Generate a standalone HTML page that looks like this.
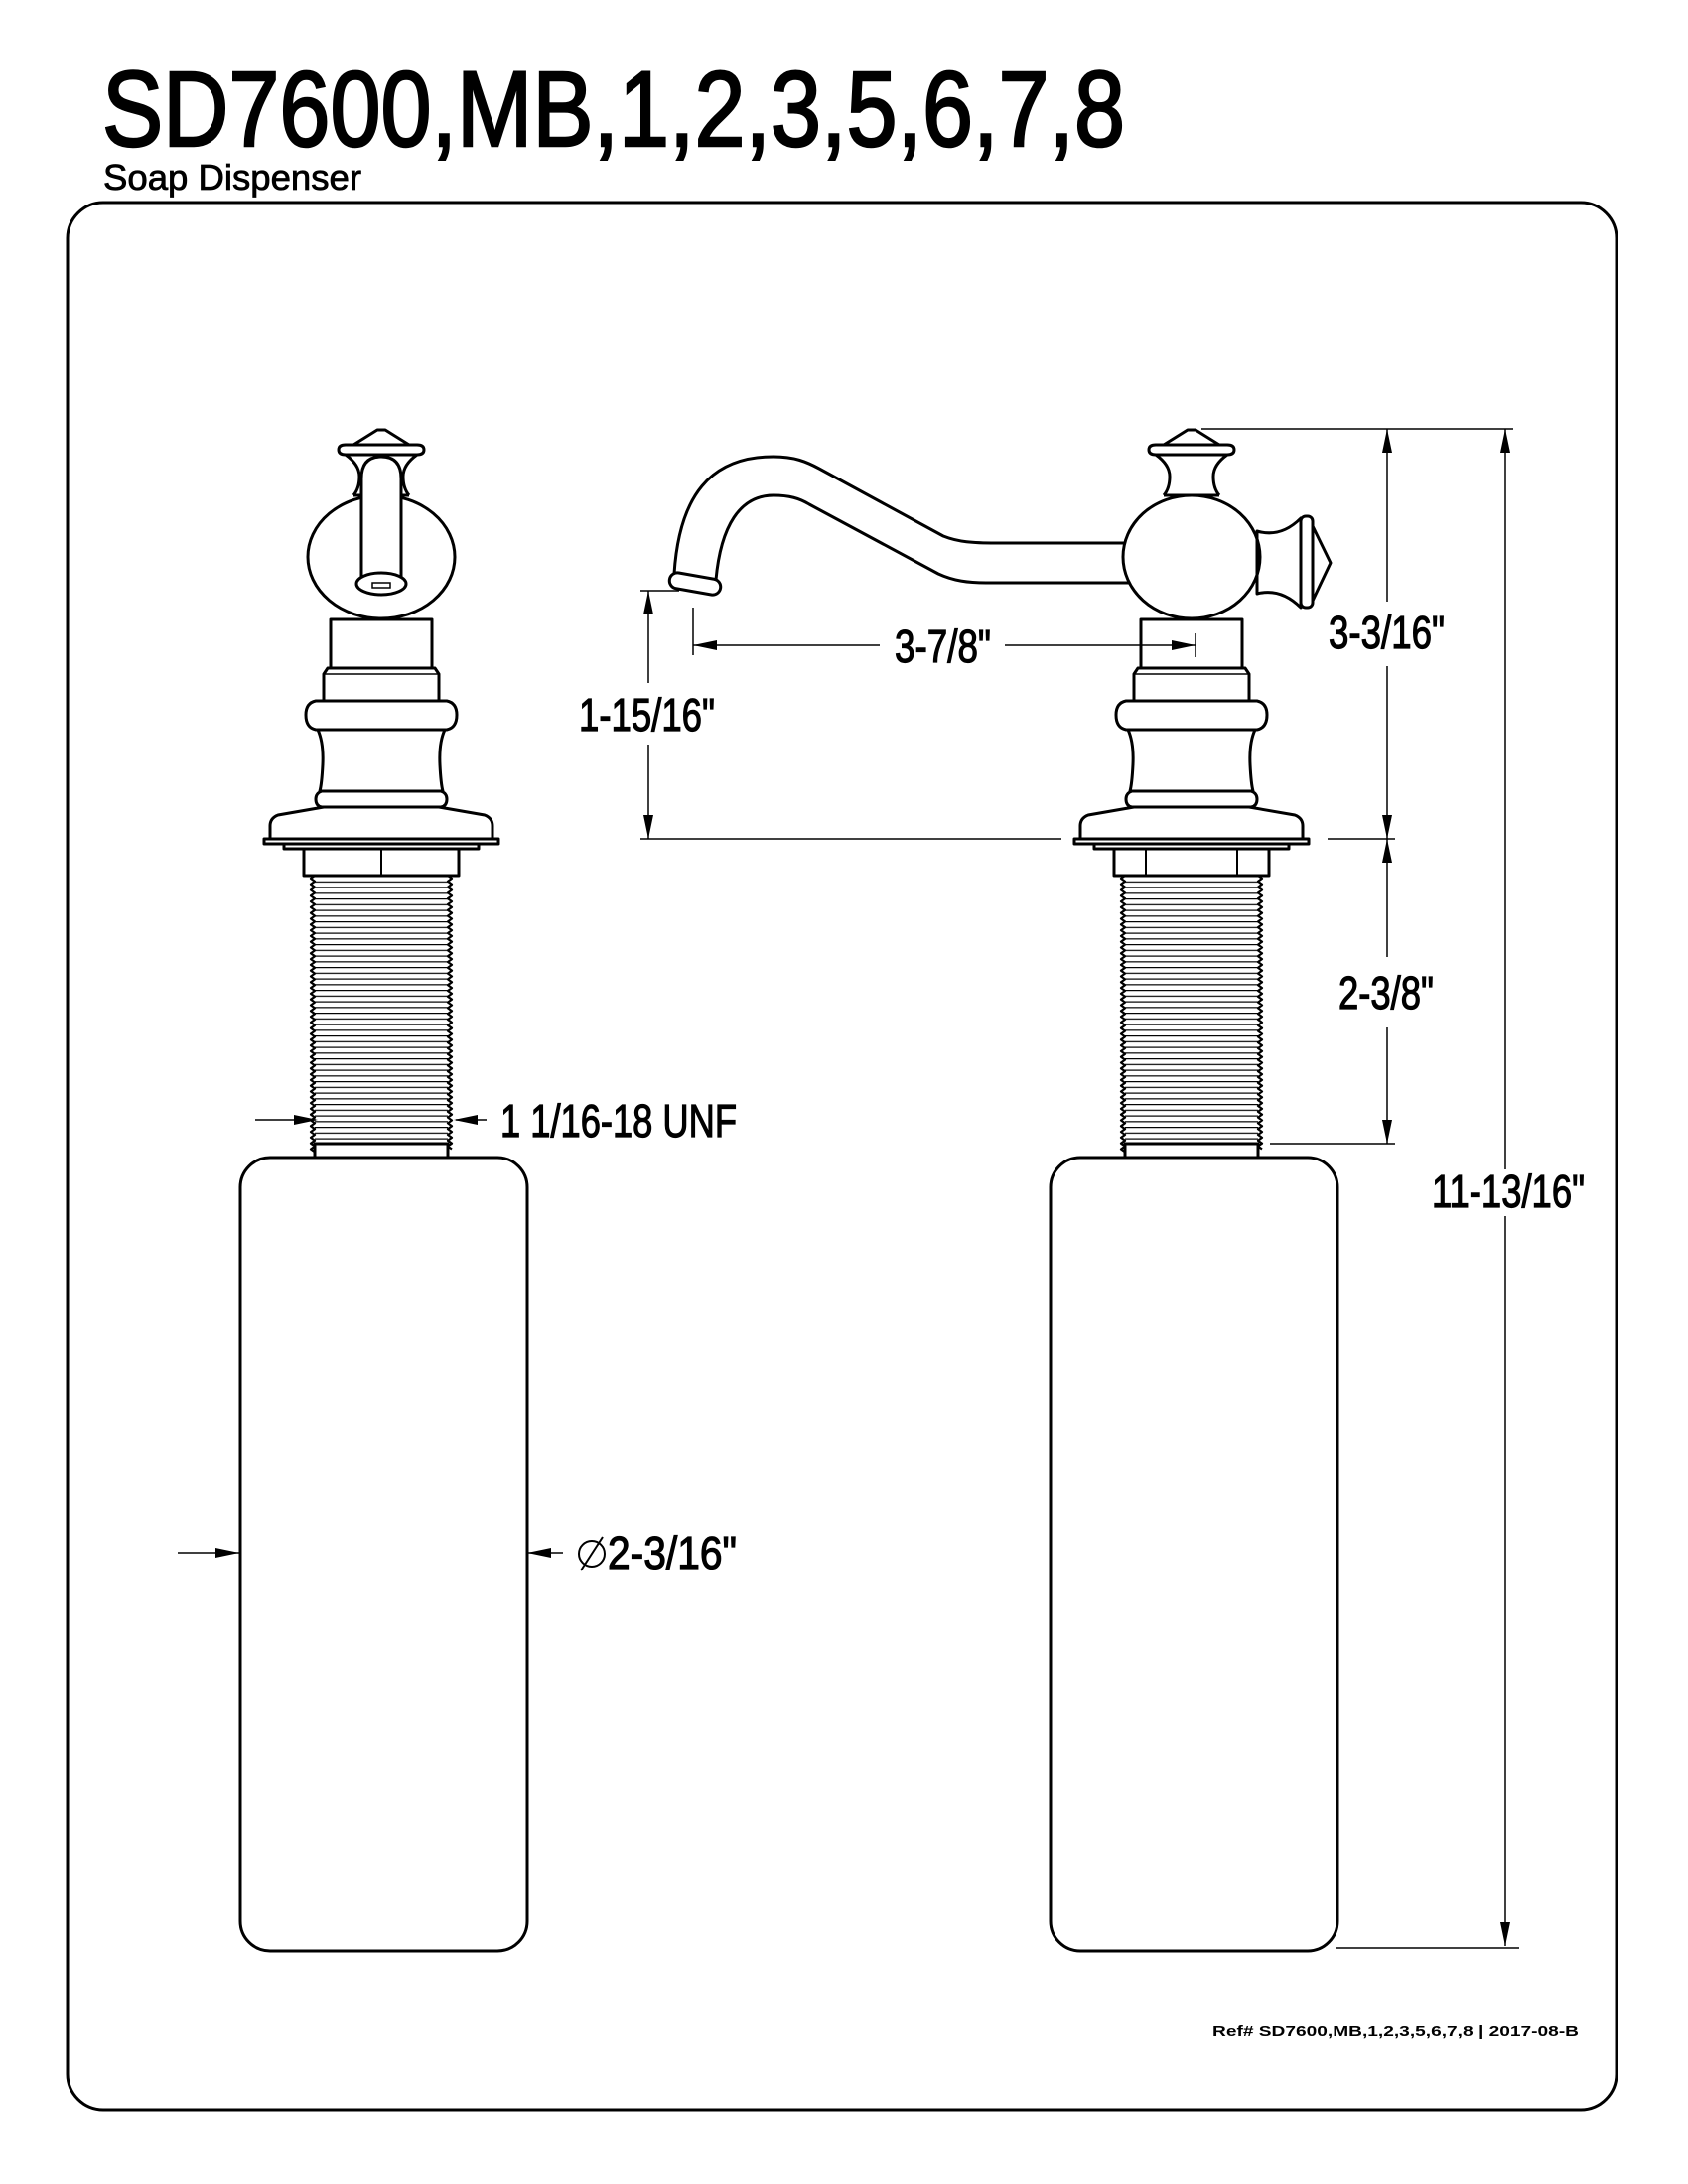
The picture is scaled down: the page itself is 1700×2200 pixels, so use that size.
<!DOCTYPE html>
<html><head><meta charset="utf-8"><style>
html,body{margin:0;padding:0;background:#fff}
svg{display:block}
text{font-family:"Liberation Sans",sans-serif;fill:#000}
.d text{stroke:#000;stroke-width:1.2}
</style></head><body>
<svg width="1700" height="2200" viewBox="0 0 1700 2200" xmlns="http://www.w3.org/2000/svg">
<defs>
<pattern id="thr" patternUnits="userSpaceOnUse" x="0" y="882" width="400" height="5.75">
<line x1="0" y1="0.6" x2="400" y2="0.6" stroke="#000" stroke-width="1.2"/>
</pattern>
<g id="stack" fill="#fff" stroke="#000" stroke-width="3" stroke-linejoin="round">
<rect x="-51" y="624" width="102" height="49"/>
<path d="M-58,679 L-54,673 L54,673 L58,679 L58,706 L-58,706 Z"/>
<line x1="-58" y1="679" x2="58" y2="679" stroke-width="1.5"/>
<path d="M-64,735 Q-58,748 -59,770 Q-60,790 -62,797 L62,797 Q60,790 59,770 Q58,748 64,735 Z"/>
<path d="M-66,706 L66,706 Q76,708 76,720 Q76,733 66,735 L-66,735 Q-76,733 -76,720 Q-76,708 -66,706 Z"/>
<path d="M-60,797 L60,797 Q66,799 66,805 Q66,812 60,813 L-60,813 Q-66,812 -66,805 Q-66,799 -60,797 Z"/>
<path d="M-58,813 L58,813 L104,821 Q112,824 112,832 L112,845 L-112,845 L-112,832 Q-112,824 -104,821 Z"/>
<rect x="-118" y="845" width="236" height="5"/>
<rect x="-98" y="850" width="196" height="5"/>
<rect x="-78" y="855" width="156" height="27"/>
<rect x="-67" y="882" width="134" height="270" fill="url(#thr)" stroke="none"/>
<path d="M-67,882 l-4,2.9 l4,2.9 l-4,2.9 l4,2.9 l-4,2.9 l4,2.9 l-4,2.9 l4,2.9 l-4,2.9 l4,2.9 l-4,2.9 l4,2.9 l-4,2.9 l4,2.9 l-4,2.9 l4,2.9 l-4,2.9 l4,2.9 l-4,2.9 l4,2.9 l-4,2.9 l4,2.9 l-4,2.9 l4,2.9 l-4,2.9 l4,2.9 l-4,2.9 l4,2.9 l-4,2.9 l4,2.9 l-4,2.9 l4,2.9 l-4,2.9 l4,2.9 l-4,2.9 l4,2.9 l-4,2.9 l4,2.9 l-4,2.9 l4,2.9 l-4,2.9 l4,2.9 l-4,2.9 l4,2.9 l-4,2.9 l4,2.9 l-4,2.9 l4,2.9 l-4,2.9 l4,2.9 l-4,2.9 l4,2.9 l-4,2.9 l4,2.9 l-4,2.9 l4,2.9 l-4,2.9 l4,2.9 l-4,2.9 l4,2.9 l-4,2.9 l4,2.9 l-4,2.9 l4,2.9 l-4,2.9 l4,2.9 l-4,2.9 l4,2.9 l-4,2.9 l4,2.9 l-4,2.9 l4,2.9 l-4,2.9 l4,2.9 l-4,2.9 l4,2.9 l-4,2.9 l4,2.9 l-4,2.9 l4,2.9 l-4,2.9 l4,2.9 l-4,2.9 l4,2.9 l-4,2.9 l4,2.9 l-4,2.9 l4,2.9 l-4,2.9 l4,2.9 l-4,2.9 l4,2.9 l-4,2.9 l4,2.9 l-4,2.9 l4,2.9" fill="none" stroke-width="2.2"/>
<path d="M67,882 l4,2.9 l-4,2.9 l4,2.9 l-4,2.9 l4,2.9 l-4,2.9 l4,2.9 l-4,2.9 l4,2.9 l-4,2.9 l4,2.9 l-4,2.9 l4,2.9 l-4,2.9 l4,2.9 l-4,2.9 l4,2.9 l-4,2.9 l4,2.9 l-4,2.9 l4,2.9 l-4,2.9 l4,2.9 l-4,2.9 l4,2.9 l-4,2.9 l4,2.9 l-4,2.9 l4,2.9 l-4,2.9 l4,2.9 l-4,2.9 l4,2.9 l-4,2.9 l4,2.9 l-4,2.9 l4,2.9 l-4,2.9 l4,2.9 l-4,2.9 l4,2.9 l-4,2.9 l4,2.9 l-4,2.9 l4,2.9 l-4,2.9 l4,2.9 l-4,2.9 l4,2.9 l-4,2.9 l4,2.9 l-4,2.9 l4,2.9 l-4,2.9 l4,2.9 l-4,2.9 l4,2.9 l-4,2.9 l4,2.9 l-4,2.9 l4,2.9 l-4,2.9 l4,2.9 l-4,2.9 l4,2.9 l-4,2.9 l4,2.9 l-4,2.9 l4,2.9 l-4,2.9 l4,2.9 l-4,2.9 l4,2.9 l-4,2.9 l4,2.9 l-4,2.9 l4,2.9 l-4,2.9 l4,2.9 l-4,2.9 l4,2.9 l-4,2.9 l4,2.9 l-4,2.9 l4,2.9 l-4,2.9 l4,2.9 l-4,2.9 l4,2.9 l-4,2.9 l4,2.9 l-4,2.9 l4,2.9 l-4,2.9 l4,2.9" fill="none" stroke-width="2.2"/>
<rect x="-67" y="1152" width="134" height="14"/>
<rect x="-142" y="1166" width="289" height="799" rx="30"/>
</g>
<path id="fin" d="M-28,448 L-4,433 L4,433 L28,448 M-36,448 L36,448 Q43,448 43,453 Q43,458 36,458 L-36,458 Q-43,458 -43,453 Q-43,448 -36,448 Z M-36,458 Q-22,468 -22,480 Q-22,492 -28,499 M36,458 Q22,468 22,480 Q22,492 28,499" fill="#fff" stroke="#000" stroke-width="3" stroke-linejoin="round"/>
</defs>

<text x="103" y="147" font-size="108" textLength="1030" lengthAdjust="spacingAndGlyphs" stroke="#000" stroke-width="2.5">SD7600,MB,1,2,3,5,6,7,8</text>
<text x="104" y="191" font-size="36" textLength="260" lengthAdjust="spacingAndGlyphs" stroke="#000" stroke-width="0.8">Soap Dispenser</text>

<rect x="68" y="204" width="1560" height="1921" rx="36" fill="none" stroke="#000" stroke-width="3"/>

<g transform="translate(384,0)">
<use href="#stack"/>
<use href="#fin"/>
<g fill="#fff" stroke="#000" stroke-width="3">
<ellipse cx="0" cy="561" rx="74" ry="62"/>
<line x1="-28" y1="499" x2="28" y2="499"/>
<path d="M-20,592 L-20,482 Q-20,460 0,460 Q20,460 20,482 L20,592"/>
<ellipse cx="0" cy="588" rx="25" ry="11"/>
<rect x="-9" y="587" width="18" height="5" stroke-width="1.5"/>
</g>
<line x1="0" y1="855" x2="0" y2="882" stroke="#000" stroke-width="2"/>
</g>

<g fill="#fff" stroke="#000" stroke-width="3" stroke-linejoin="round">
<path d="M679,578 C684,500 715,460 779,460 C800,460 812,465 825,472 L950,540 C965,546 980,547 1003,547 L1140,547" fill="none"/>
<path d="M721,584 C726,530 745,499 779,499 C795,499 805,502 815,508 L945,578 C960,585 975,587 993,587 L1140,587" fill="none"/>
<rect x="674" y="580" width="52" height="16" rx="8" transform="rotate(10 700 588)"/>
</g>
<g transform="translate(1200,0)">
<use href="#stack"/>
<use href="#fin"/>
<g fill="#fff" stroke="#000" stroke-width="3" stroke-linejoin="round">
<path d="M66,535 Q90,542 110,522 L110,612 Q90,592 66,598 Z"/>
<rect x="110" y="520" width="12" height="92" rx="5"/>
<path d="M122,530 L140,567 L122,605" fill="none"/>
<ellipse cx="0" cy="561" rx="69" ry="62"/>
<line x1="-28" y1="499" x2="28" y2="499"/>
<line x1="66" y1="535" x2="66" y2="598"/>
</g>
<line x1="-46" y1="855" x2="-46" y2="882" stroke="#000" stroke-width="2"/>
<line x1="46" y1="855" x2="46" y2="882" stroke="#000" stroke-width="2"/>
</g>

<g stroke="#000" stroke-width="1.5" fill="none">
<line x1="645" y1="595" x2="684" y2="595"/>
<line x1="645" y1="845" x2="1069" y2="845"/>
<line x1="1337" y1="845" x2="1405" y2="845"/>
<line x1="653" y1="595" x2="653" y2="688"/>
<line x1="653" y1="750" x2="653" y2="845"/>
<line x1="698" y1="612" x2="698" y2="660"/>
<line x1="698" y1="650" x2="886" y2="650"/>
<line x1="1012" y1="650" x2="1204" y2="650"/>
<line x1="1204" y1="638" x2="1204" y2="662"/>
<line x1="1210" y1="432" x2="1524" y2="432"/>
<line x1="1397" y1="432" x2="1397" y2="606"/>
<line x1="1397" y1="671" x2="1397" y2="845"/>
<line x1="1397" y1="845" x2="1397" y2="964"/>
<line x1="1397" y1="1035" x2="1397" y2="1152"/>
<line x1="1279" y1="1152" x2="1405" y2="1152"/>
<line x1="1516" y1="432" x2="1516" y2="1178"/>
<line x1="1516" y1="1225" x2="1516" y2="1960"/>
<line x1="1345" y1="1962" x2="1530" y2="1962"/>
<line x1="257" y1="1128" x2="318" y2="1128"/>
<line x1="459" y1="1128" x2="490" y2="1128"/>
<line x1="179" y1="1564" x2="241" y2="1564"/>
<line x1="531" y1="1564" x2="567" y2="1564"/>
</g>
<g fill="#000">
<path d="M653,595 l-5,24 l10,0 Z"/>
<path d="M653,845 l-5,-24 l10,0 Z"/>
<path d="M698,650 l24,-5 l0,10 Z"/>
<path d="M1204,650 l-24,-5 l0,10 Z"/>
<path d="M1397,432 l-5,24 l10,0 Z"/>
<path d="M1397,845 l-5,-24 l10,0 Z"/>
<path d="M1397,845 l-5,24 l10,0 Z"/>
<path d="M1397,1152 l-5,-24 l10,0 Z"/>
<path d="M1516,432 l-5,24 l10,0 Z"/>
<path d="M1516,1960 l-5,-24 l10,0 Z"/>
<path d="M320,1128 l-24,-5 l0,10 Z"/>
<path d="M457,1128 l24,-5 l0,10 Z"/>
<path d="M241,1564 l-24,-5 l0,10 Z"/>
<path d="M531,1564 l24,-5 l0,10 Z"/>
</g>

<g class="d" font-size="46">
<text x="583" y="736" textLength="137" lengthAdjust="spacingAndGlyphs">1-15/16"</text>
<text x="901" y="667" textLength="97" lengthAdjust="spacingAndGlyphs">3-7/8"</text>
<text x="1338" y="653" textLength="117" lengthAdjust="spacingAndGlyphs">3-3/16"</text>
<text x="1348" y="1016" textLength="96" lengthAdjust="spacingAndGlyphs">2-3/8"</text>
<text x="1442" y="1216" textLength="154" lengthAdjust="spacingAndGlyphs">11-13/16"</text>
<text x="504" y="1145" textLength="238" lengthAdjust="spacingAndGlyphs">1 1/16-18 UNF</text>
<text x="612" y="1580" textLength="130" lengthAdjust="spacingAndGlyphs">2-3/16"</text>
</g>
<g stroke="#000" stroke-width="2" fill="none">
<circle cx="596" cy="1565" r="13"/>
<line x1="585" y1="1582" x2="607" y2="1548"/>
</g>

<text x="1221" y="2051" font-size="15" font-weight="bold" textLength="369" lengthAdjust="spacingAndGlyphs">Ref# SD7600,MB,1,2,3,5,6,7,8 | 2017-08-B</text>
</svg>
</body></html>
